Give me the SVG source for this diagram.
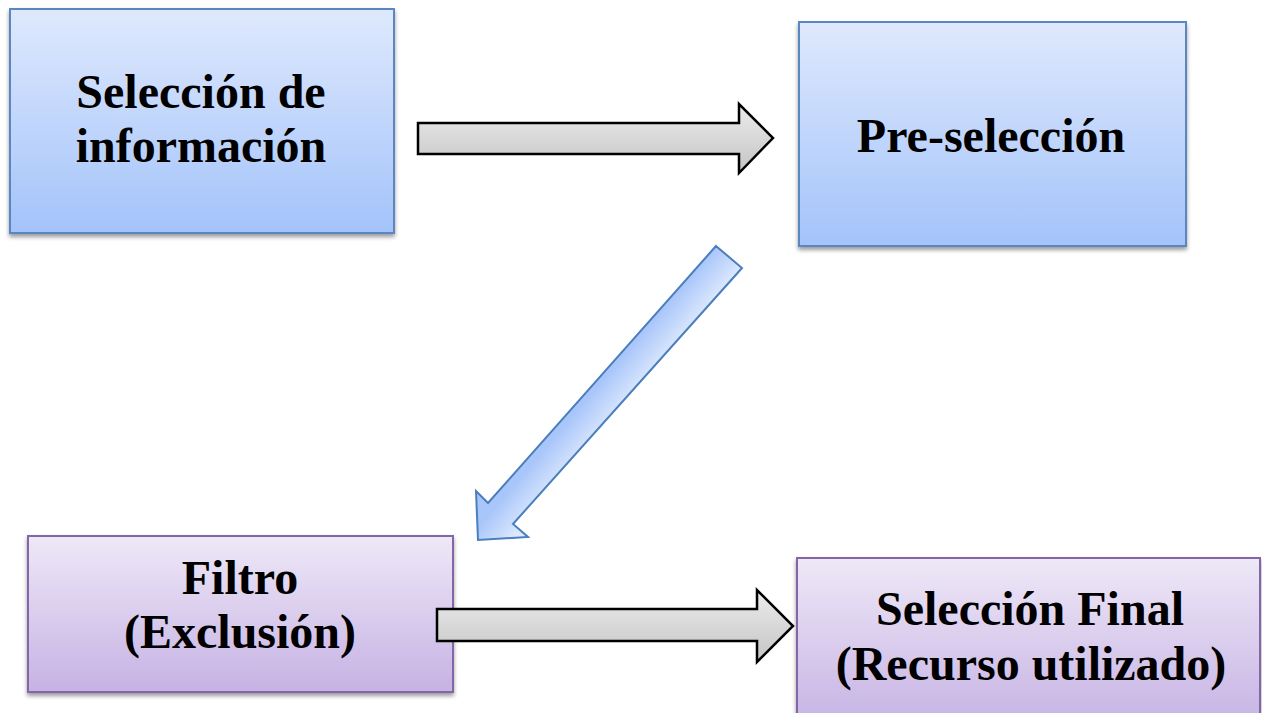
<svg xmlns="http://www.w3.org/2000/svg" width="1262" height="713" viewBox="0 0 1262 713">
<defs>
<linearGradient id="gBlue" x1="0" y1="0" x2="0" y2="1">
<stop offset="0" stop-color="#dfe9fd"/><stop offset="1" stop-color="#a3c3fa"/>
</linearGradient>
<linearGradient id="gPurple" x1="0" y1="0" x2="0" y2="1">
<stop offset="0" stop-color="#eee8f7"/><stop offset="1" stop-color="#c6b2e4"/>
</linearGradient>
<linearGradient id="gGray" x1="0" y1="0" x2="0" y2="1">
<stop offset="0" stop-color="#ececec"/><stop offset="1" stop-color="#c4c4c4"/>
</linearGradient>
<linearGradient id="gDiag" gradientUnits="userSpaceOnUse" x1="716" y1="246" x2="742" y2="268">
<stop offset="0" stop-color="#a9c6fa"/><stop offset="1" stop-color="#dce8fd"/>
</linearGradient>
<filter id="sh" x="-5%" y="-5%" width="110%" height="115%">
<feGaussianBlur in="SourceAlpha" stdDeviation="2"/>
<feOffset dx="0" dy="3" result="b"/>
<feComponentTransfer><feFuncA type="linear" slope="0.4"/></feComponentTransfer>
<feMerge><feMergeNode/><feMergeNode in="SourceGraphic"/></feMerge>
</filter>
</defs>
<style>
.blue{fill:url(#gBlue);stroke:#5a86c2;stroke-width:2}
.purple{fill:url(#gPurple);stroke:#8466a8;stroke-width:2}
.lbl{font-family:"Liberation Serif","Times New Roman",serif;font-weight:bold;font-size:48px;fill:#000;text-anchor:middle}
.garrow{fill:url(#gGray);stroke:#000;stroke-width:2.5;stroke-linejoin:miter}
.barrow{fill:url(#gDiag);stroke:#4a7ebd;stroke-width:2}
</style>
<rect width="1262" height="713" fill="#ffffff"/>
<g id="node-seleccion-informacion">
<rect class="blue" x="10" y="9" width="384" height="224" filter="url(#sh)"/>
<text class="lbl" x="201" y="108">Selección de</text>
<text class="lbl" x="201" y="162">información</text>
</g>
<g id="node-preseleccion">
<rect class="blue" x="799" y="22" width="387" height="224" filter="url(#sh)"/>
<text class="lbl" x="991" y="152">Pre-selección</text>
</g>
<g id="node-filtro">
<rect class="purple" x="28" y="536" width="425" height="156" filter="url(#sh)"/>
<text class="lbl" x="240" y="594">Filtro</text>
<text class="lbl" x="240" y="648">(Exclusión)</text>
</g>
<g id="node-seleccion-final">
<rect class="purple" x="797" y="558" width="463" height="170" filter="url(#sh)"/>
<text class="lbl" x="1030" y="625">Selección Final</text>
<text class="lbl" x="1031" y="680">(Recurso utilizado)</text>
</g>
<g id="connectors">
<polygon class="garrow" points="418,123 739,123 739,104 773,138 739,173 739,154 418,154"/>
<polygon class="barrow" points="716,246 742,268 513,524 528,537 478,540 476,491 488,503"/>
<polygon class="garrow" points="437,609 757,609 757,590 793,626 757,662 757,641 437,641"/>
</g>
</svg>
